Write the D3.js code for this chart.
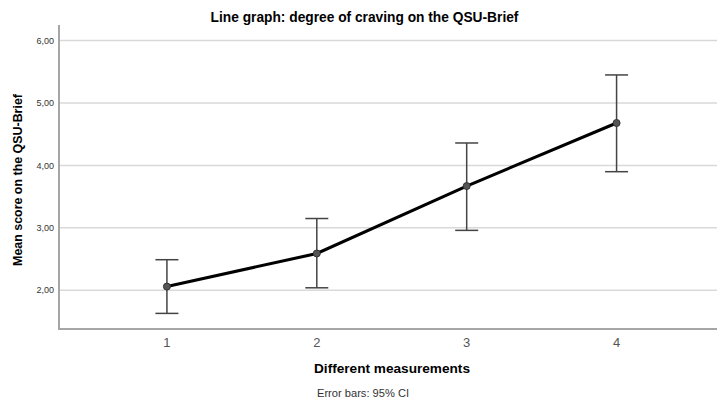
<!DOCTYPE html>
<html lang="en">
<head>
    <meta charset="UTF-8">
    <title>Line graph: degree of craving on the QSU-Brief</title>
    <script src="https://cdnjs.cloudflare.com/ajax/libs/d3/7.8.5/d3.min.js"></script>
    <style>
        body {
            margin: 0;
            background: white;
            font-family: "Liberation Sans", Arial, sans-serif;
            overflow: hidden;
        }
        svg {
            display: block;
        }
        .grid line {
            stroke: #d9d9d9;
            stroke-width: 1.5px;
        }
        .axis-line {
            stroke: #a6a6a6;
            stroke-width: 2px;
        }
        .errbar {
            stroke: #444;
            stroke-width: 1.5px;
            fill: none;
        }
        .mean-line {
            fill: none;
            stroke: #000;
            stroke-width: 3px;
        }
    </style>
</head>
<body>
    <svg width="717" height="403"></svg>

    <script>
        // measurements on the x axis
        const measurements = [1, 2, 3, 4];
        // mean score and 95% CI bounds
        const means = [2.06, 2.59, 3.67, 4.68];
        const ciLower = [1.63, 2.04, 2.96, 3.90];
        const ciUpper = [2.49, 3.15, 4.36, 5.45];
        const yTicks = [2, 3, 4, 5, 6];

        const svg = d3.select("svg");
        const plotLeft = 59, plotRight = 717, plotTop = 25, plotBottom = 329;

        const x = d3.scaleLinear().domain([0.28, 4.67]).range([plotLeft, plotRight]);
        const y = d3.scaleLinear().domain([1.38, 6.25]).range([plotBottom, plotTop]);

        // scale a label's font so it spans roughly the same width as the original
        function fitText(sel, width) {
            const len = sel.node().getComputedTextLength();
            const size = parseFloat(sel.style("font-size"));
            sel.style("font-size", (size * width / len).toFixed(2) + "px");
        }

        // gridlines
        svg.append("g")
            .attr("class", "grid")
            .selectAll("line")
            .data(yTicks)
            .enter()
            .append("line")
            .attr("x1", plotLeft)
            .attr("x2", plotRight)
            .attr("y1", d => y(d))
            .attr("y2", d => y(d));

        // y tick labels
        svg.append("g")
            .selectAll("text")
            .data(yTicks)
            .enter()
            .append("text")
            .attr("x", plotLeft - 5)
            .attr("y", d => y(d))
            .attr("dy", "0.35em")
            .attr("text-anchor", "end")
            .style("font-size", "9px")
            .style("fill", "#333")
            .text(d => d3.format(".2f")(d).replace(".", ","));

        // x tick labels
        svg.append("g")
            .selectAll("text")
            .data(measurements)
            .enter()
            .append("text")
            .attr("x", d => x(d))
            .attr("y", plotBottom + 18)
            .attr("text-anchor", "middle")
            .style("font-size", "13px")
            .style("fill", "#555")
            .text(d => d);

        // axes
        svg.append("line").attr("class", "axis-line")
            .attr("x1", plotLeft).attr("x2", plotLeft).attr("y1", plotTop).attr("y2", plotBottom + 1);
        svg.append("line").attr("class", "axis-line")
            .attr("x1", plotLeft).attr("x2", plotRight).attr("y1", plotBottom).attr("y2", plotBottom);

        // error bars
        const capHalf = 11.5;
        const bars = svg.append("g").selectAll("g")
            .data(measurements)
            .enter()
            .append("g")
            .attr("class", "errbar");

        bars.append("line")
            .attr("x1", d => x(d)).attr("x2", d => x(d))
            .attr("y1", (d, i) => y(ciLower[i]))
            .attr("y2", (d, i) => y(ciUpper[i]));
        bars.append("line")
            .attr("x1", d => x(d) - capHalf).attr("x2", d => x(d) + capHalf)
            .attr("y1", (d, i) => y(ciUpper[i]))
            .attr("y2", (d, i) => y(ciUpper[i]));
        bars.append("line")
            .attr("x1", d => x(d) - capHalf).attr("x2", d => x(d) + capHalf)
            .attr("y1", (d, i) => y(ciLower[i]))
            .attr("y2", (d, i) => y(ciLower[i]));

        // mean line
        const line = d3.line()
            .x(d => x(d[0]))
            .y(d => y(d[1]));

        svg.append("path")
            .datum(measurements.map((m, i) => [m, means[i]]))
            .attr("class", "mean-line")
            .attr("d", line);

        svg.append("g").selectAll("circle")
            .data(measurements)
            .enter()
            .append("circle")
            .attr("cx", d => x(d))
            .attr("cy", (d, i) => y(means[i]))
            .attr("r", 3.5)
            .style("fill", "#555")
            .style("stroke", "#333")
            .style("stroke-width", 1);

        // titles
        const title = svg.append("text")
            .attr("x", 364.5)
            .attr("y", 22)
            .attr("text-anchor", "middle")
            .style("font-size", "13px")
            .style("font-weight", "bold")
            .text("Line graph: degree of craving on the QSU-Brief");
        fitText(title, 308);

        const xTitle = svg.append("text")
            .attr("x", 392)
            .attr("y", 373)
            .attr("text-anchor", "middle")
            .style("font-size", "14px")
            .style("font-weight", "bold")
            .text("Different measurements");
        fitText(xTitle, 156);

        const yTitle = svg.append("text")
            .attr("transform", "translate(22,180) rotate(-90)")
            .attr("text-anchor", "middle")
            .style("font-size", "14px")
            .style("font-weight", "bold")
            .text("Mean score on the QSU-Brief");
        fitText(yTitle, 172);

        const note = svg.append("text")
            .attr("x", 363)
            .attr("y", 397)
            .attr("text-anchor", "middle")
            .style("font-size", "11px")
            .style("fill", "#333")
            .text("Error bars: 95% CI");
        fitText(note, 92);
    </script>
</body>
</html>
